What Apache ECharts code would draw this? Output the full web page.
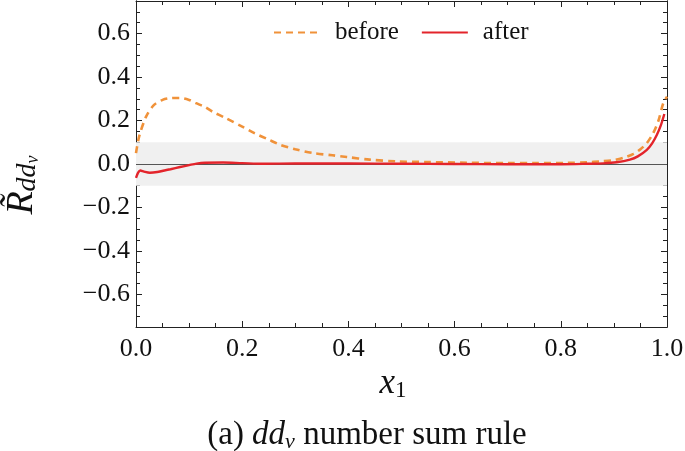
<!DOCTYPE html>
<html>
<head>
<meta charset="utf-8">
<script src="https://cdn.jsdelivr.net/npm/echarts@6/dist/echarts.min.js"></script>
<style>html,body{margin:0;padding:0;background:#fff}#c{width:685px;height:451px}</style>
</head>
<body>
<div id="c"></div>
<script>
// ---- data ----
const beforeX = [0, 0.006, 0.019, 0.034, 0.05, 0.065, 0.082, 0.1, 0.113, 0.13, 0.144, 0.169, 0.2, 0.223, 0.25, 0.271, 0.3, 0.334, 0.37, 0.397, 0.44, 0.491, 0.55, 0.623, 0.7, 0.75, 0.811, 0.85, 0.874, 0.9, 0.92, 0.937, 0.95, 0.962, 0.974, 0.984, 0.993, 1.0];
const beforeY = [0.05, 0.127, 0.218, 0.272, 0.295, 0.303, 0.304, 0.295, 0.28, 0.262, 0.241, 0.211, 0.172, 0.142, 0.112, 0.089, 0.068, 0.05, 0.04, 0.032, 0.02, 0.012, 0.009, 0.006, 0.004, 0.004, 0.005, 0.008, 0.012, 0.018, 0.03, 0.047, 0.068, 0.096, 0.142, 0.2, 0.28, 0.31];
const afterX = [0, 0.004, 0.008, 0.015, 0.026, 0.04, 0.051, 0.065, 0.083, 0.1, 0.114, 0.13, 0.164, 0.2, 0.24, 0.3, 0.4, 0.5, 0.6, 0.7, 0.8, 0.85, 0.88, 0.905, 0.93, 0.945, 0.962, 0.972, 0.981, 0.988, 0.995];
const afterY = [-0.064, -0.04, -0.03, -0.035, -0.04, -0.037, -0.031, -0.024, -0.014, -0.005, 0.002, 0.006, 0.007, 0.004, 0.001, 0.002, 0.002, 0.001, 0.0, -0.001, -0.001, 0.001, 0.003, 0.008, 0.02, 0.035, 0.065, 0.095, 0.135, 0.175, 0.23];
const seriesNames = ['before', 'after'];
const xTicks = [0, 0.2, 0.4, 0.6, 0.8, 1.0];
const yTicks = [-0.6, -0.4, -0.2, 0, 0.2, 0.4, 0.6];
const yRange = [-0.75, 0.75];
const bandRange = [-0.1, 0.1];

const yMinorTicks = [];
for (let k = -15; k <= 15; k++) yMinorTicks.push(+(k * 0.05).toFixed(2));

const FONT = 'Liberation Serif';
const zip = (xs, ys) => xs.map((x, i) => [x, ys[i]]);
const fmt = v => (v < 0 ? '\u2212' : '') + Math.abs(v).toFixed(1);

const frame = { show: true, onZero: false, lineStyle: { color: '#222', width: 1 } };
const baseX = {
  type: 'value', min: xTicks[0], max: xTicks[xTicks.length - 1], interval: 0.2,
  axisLine: frame, splitLine: { show: false },
  axisTick: { show: true, inside: true, length: 6, lineStyle: { color: '#222' } },
  minorTick: { show: true, splitNumber: 4, length: 4, lineStyle: { color: '#222' } },
};
const baseY = (pos, withLabels, ticks, len) => ({
  type: 'value', min: yRange[0], max: yRange[1], position: pos,
  axisLine: frame, splitLine: { show: false },
  axisTick: { show: true, inside: true, length: len, customValues: ticks, lineStyle: { color: '#222' } },
  axisLabel: withLabels ? { show: true, customValues: yTicks, formatter: fmt, fontFamily: FONT, fontSize: 26, color: '#111', margin: 6 } : { show: false },
});

const chart = echarts.init(document.getElementById('c'), null, { renderer: 'canvas' });
chart.setOption({
  animation: false,
  backgroundColor: '#fff',
  grid: { left: 136, right: 18, top: 1, bottom: 124, containLabel: false, outerBoundsMode: 'none' },
  title: [
    {
      text: '{i|x}{s|1}', left: 388, top: 360, textAlign: 'center',
      textStyle: { fontWeight: 'normal', rich: {
        i: { fontFamily: FONT, fontStyle: 'italic', fontWeight: 'normal', fontSize: 35, color: '#111', lineHeight: 37 },
        s: { fontFamily: FONT, fontWeight: 'normal', fontSize: 23, color: '#111', verticalAlign: 'bottom', lineHeight: 22 }
      } }
    },
    {
      text: '{n|(a) }{i|dd}{s|v}{n| number sum rule}', left: 362, top: 412, textAlign: 'center',
      textStyle: { fontWeight: 'normal', rich: {
        n: { fontFamily: FONT, fontWeight: 'normal', fontSize: 33, color: '#111', lineHeight: 36 },
        i: { fontFamily: FONT, fontStyle: 'italic', fontWeight: 'normal', fontSize: 33, color: '#111', lineHeight: 36 },
        s: { fontFamily: FONT, fontStyle: 'italic', fontWeight: 'normal', fontSize: 22, color: '#111', verticalAlign: 'bottom', lineHeight: 21 }
      } }
    }
  ],
  legend: {
    data: seriesNames, left: 268, top: 15, itemWidth: 46, itemHeight: 14, itemGap: 22,
    itemStyle: { opacity: 0, color: 'transparent', borderWidth: 0 },
    textStyle: { fontFamily: FONT, fontSize: 25, color: '#111', padding: [0, 0, 0, 10] }
  },
  xAxis: [
    Object.assign({}, baseX, { position: 'bottom', axisLabel: { show: true, formatter: fmt, fontFamily: FONT, fontSize: 26, color: '#111', margin: 9 } }),
    Object.assign({}, baseX, { position: 'top', axisLabel: { show: false } })
  ],
  yAxis: [
    Object.assign(baseY('left', true, yTicks, 6), {
      name: '{t|R\u0303}{s|dd}{ss|v}', nameLocation: 'middle', nameRotate: 90, nameGap: 94,
      nameTextStyle: { padding: [0, 42, 0, 0], rich: {
        t: { fontFamily: FONT, fontStyle: 'italic', fontSize: 38, color: '#111', lineHeight: 40 },
        s: { fontFamily: FONT, fontStyle: 'italic', fontSize: 28, color: '#111', verticalAlign: 'bottom', lineHeight: 26 },
        ss: { fontFamily: FONT, fontStyle: 'italic', fontSize: 18, color: '#111', verticalAlign: 'bottom', lineHeight: 15 }
      } }
    }),
    baseY('left', false, yMinorTicks, 4),
    baseY('right', false, yTicks, 6),
    baseY('right', false, yMinorTicks, 4)
  ],
  series: [
    {
      name: seriesNames[0], type: 'line', data: zip(beforeX, beforeY), smooth: 0.3,
      showSymbol: false, symbol: 'none', z: 3,
      lineStyle: { color: '#F0923A', width: 2.6, type: [7, 5] },
      itemStyle: { color: '#F0923A' },
      markArea: { silent: true, itemStyle: { color: '#f0f0f0' }, data: [[{ yAxis: bandRange[0] }, { yAxis: bandRange[1] }]] },
      markLine: { silent: true, symbol: 'none', label: { show: false }, lineStyle: { color: '#555', width: 1.2, type: 'solid' }, data: [{ yAxis: 0 }] }
    },
    {
      name: seriesNames[1], type: 'line', data: zip(afterX, afterY), smooth: 0.3,
      showSymbol: false, symbol: 'none', z: 6,
      lineStyle: { color: '#E3242B', width: 2.4 },
      itemStyle: { color: '#E3242B' }
    }
  ]
});
</script>
</body>
</html>
